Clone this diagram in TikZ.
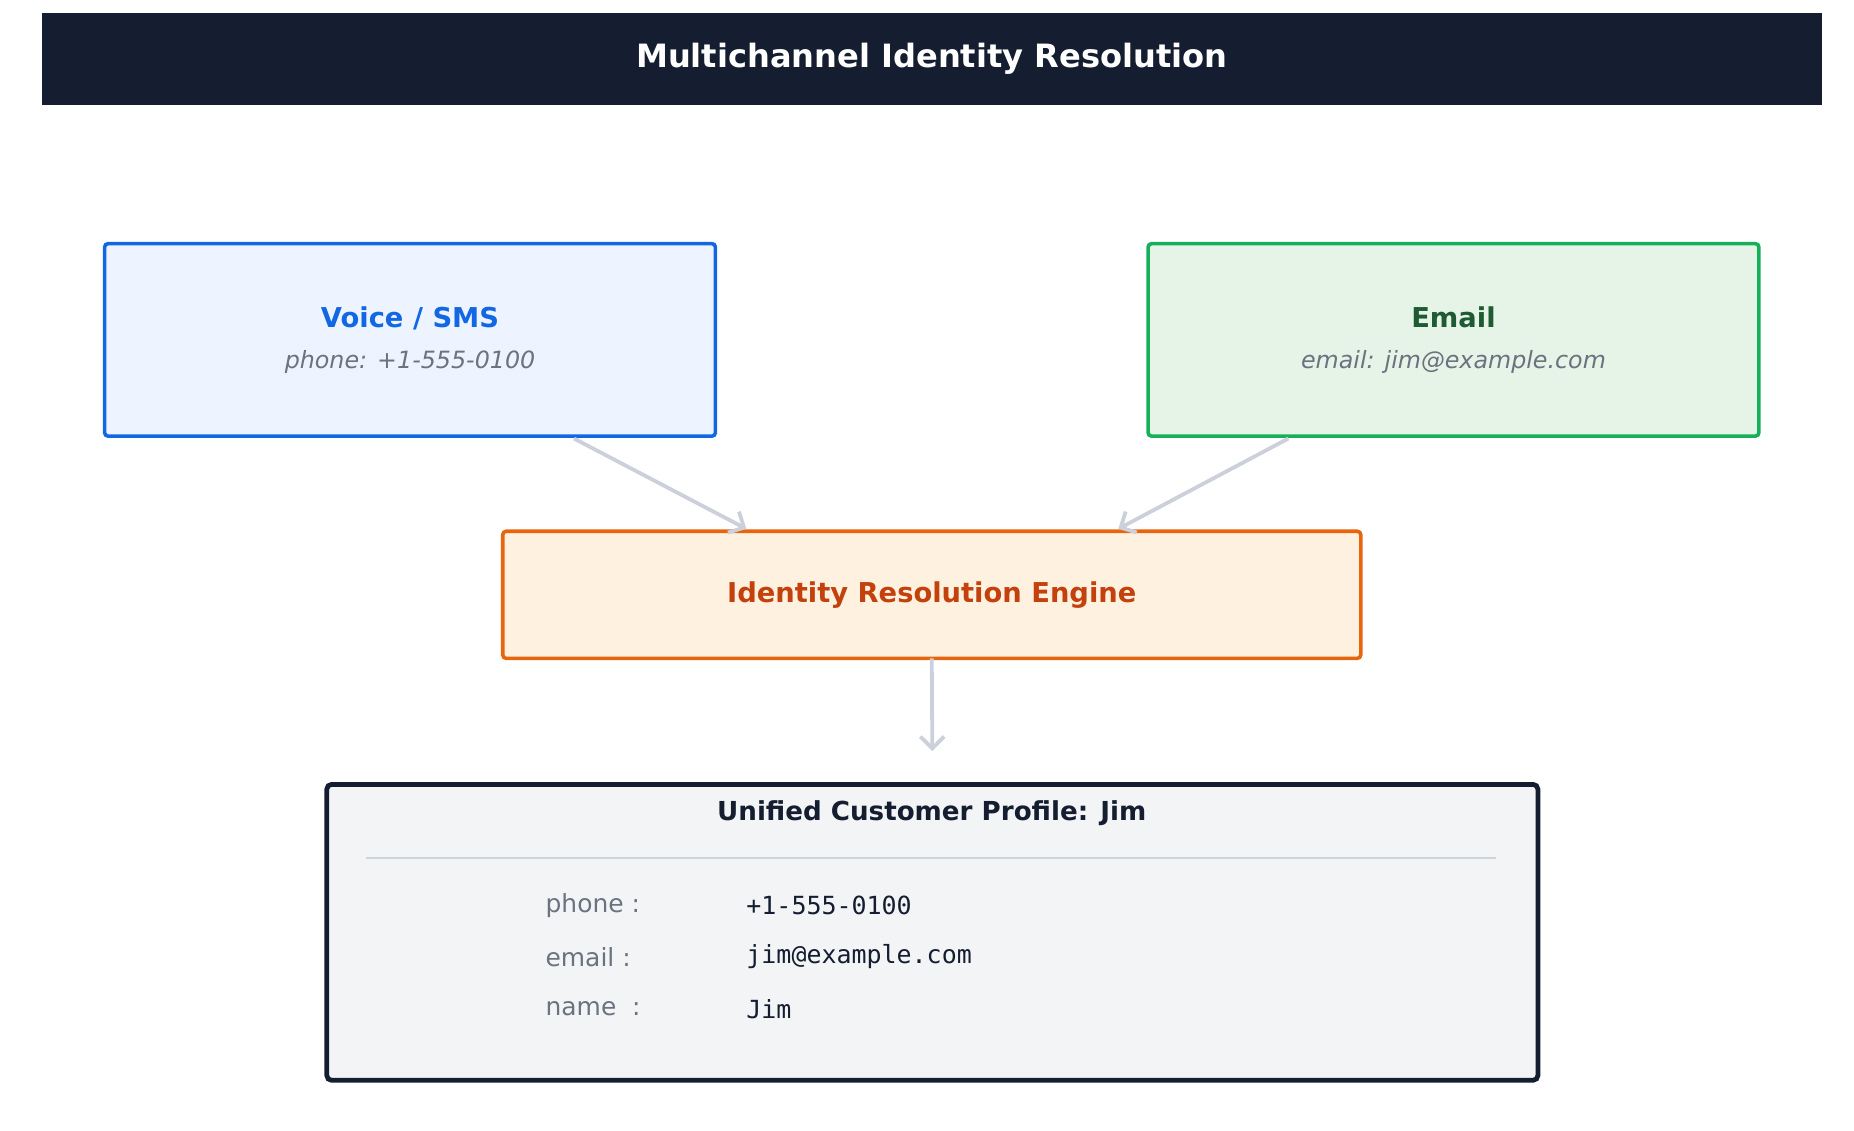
\documentclass[tikz,border=0pt]{standalone}
\usepackage{fontspec}
\setmainfont{DejaVu Sans}
\setmonofont{DejaVu Sans Mono}
\usepackage{tikz}
\usepackage{xcolor}
\usetikzlibrary{arrows.meta,positioning,calc}
\definecolor{navy}{RGB}{20,30,48}
\definecolor{voiceblue}{RGB}{18,104,227}
\definecolor{voicefill}{RGB}{238,244,255}
\definecolor{mailgreen}{RGB}{22,176,90}
\definecolor{mailfill}{RGB}{230,244,232}
\definecolor{maildark}{RGB}{30,90,50}
\definecolor{engorange}{RGB}{232,101,15}
\definecolor{engfill}{RGB}{255,241,223}
\definecolor{engtext}{RGB}{194,65,12}
\definecolor{subgray}{RGB}{107,114,128}
\definecolor{profill}{RGB}{243,244,246}
\definecolor{rulegray}{RGB}{203,213,219}
\definecolor{flowgray}{RGB}{203,208,219}

\begin{document}
\begin{tikzpicture}[x=0.5pt,y=-0.5pt,
    channel/.style={draw, line width=1.5pt, rounded corners=1.5pt, minimum width=257pt,
        minimum height=81pt, align=center, outer sep=0pt},
    flow/.style={draw=flowgray, line width=1.6pt, -{Straight Barb[length=5pt,width=10pt]}},
    rowkey/.style={anchor=west, text=subgray, font=\fontsize{10.5}{12}\selectfont},
    rowval/.style={anchor=west, text=navy, font=\ttfamily\fontsize{10.5}{12}\selectfont}]
    \useasboundingbox (0,0) rectangle (1560,951);

    % header
    \node[fill=navy, minimum width=749pt, minimum height=38.5pt, text=white,
        font=\bfseries\fontsize{13.5}{16}\selectfont] (title) at (784,49.5) {Multichannel Identity Resolution};

    % channels
    \node[channel, draw=voiceblue, fill=voicefill] (voice) at (345,286)
        {\textcolor{voiceblue}{\bfseries\fontsize{11.5}{14}\selectfont Voice / SMS}\\[5pt]
         \textcolor{subgray}{\itshape\fontsize{10}{12}\selectfont phone: +1-555-0100}};
    \node[channel, draw=mailgreen, fill=mailfill] (email) at (1223,286)
        {\textcolor{maildark}{\bfseries\fontsize{11.5}{14}\selectfont Email}\\[5pt]
         \textcolor{subgray}{\itshape\fontsize{10}{12}\selectfont email: jim@example.com}};

    % engine
    \node[channel, draw=engorange, fill=engfill, minimum width=361pt, minimum height=53.5pt,
        text=engtext, font=\bfseries\fontsize{11.5}{14}\selectfont] (engine) at (784,500.5)
        {Identity Resolution Engine};

    % profile
    \node[draw=navy, line width=2pt, rounded corners=2pt, fill=profill, minimum width=509.5pt,
        minimum height=124.5pt, outer sep=0pt] (profile) at (784.5,784.5) {};
    \node[text=navy, font=\bfseries\fontsize{11}{13}\selectfont] (proftitle) at (784,684)
        {Unified Customer Profile: Jim};
    \coordinate (ruleL) at (308,722);
    \coordinate (ruleR) at (1259,722);
    \draw[rulegray, line width=1pt] (ruleL) -- (ruleR);
    \node[rowkey] (kphone) at (452,762) {phone :};
    \node[rowkey] (kemail) at (452,805) {email :};
    \node[rowkey] (kname)  at (452,849) {name~~:};
    \node[rowval] (vphone) at (621,762) {+1-555-0100};
    \node[rowval] (vemail) at (621,805) {jim@example.com};
    \node[rowval] (vname)  at (621,849) {Jim};

    % connectors
    \draw[flow] ($(voice.south east)+(-119,2)$) -- ($(engine.north west)+(205,-2)$);
    \draw[flow] ($(email.south west)+(118,2)$) -- ($(engine.north east)+(-204,-2)$);
    \coordinate (profin) at ($(profile.north)+(0,-28)$);
    \draw[flow] (engine.south) -- (profin);
\end{tikzpicture}
\end{document}
